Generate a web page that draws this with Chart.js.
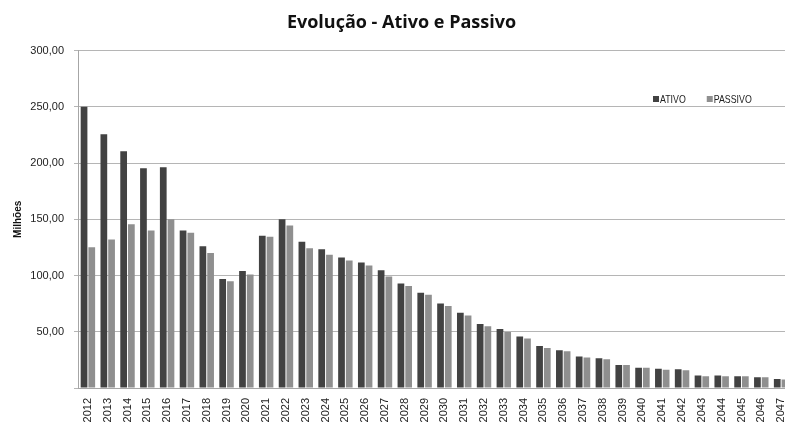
<!DOCTYPE html>
<html lang="pt-BR">
<head>
<meta charset="utf-8">
<title>Evolução - Ativo e Passivo</title>
<script src="https://cdn.jsdelivr.net/npm/chart.js@4/dist/chart.umd.min.js"></script>
<style>
    html, body { margin: 0; padding: 0; background: #fff; overflow: hidden; }
    .wrap { width: 800px; height: 425px; position: relative; }
</style>
</head>
<body>
<div class="wrap"><canvas id="grafico" width="800" height="425"></canvas></div>
<script>
// anos da projeção
const anos = ['2012', '2013', '2014', '2015', '2016', '2017', '2018', '2019', '2020', '2021',
    '2022', '2023', '2024', '2025', '2026', '2027', '2028', '2029', '2030', '2031',
    '2032', '2033', '2034', '2035', '2036', '2037', '2038', '2039', '2040', '2041',
    '2042', '2043', '2044', '2045', '2046', '2047'];

// valores em milhões
const ativo = [250.0, 225.6, 210.5, 195.4, 196.3, 140.0, 126.0, 97.0, 104.0, 135.3,
    150.0, 130.0, 123.4, 116.0, 111.6, 104.8, 93.0, 84.7, 75.2, 66.9,
    56.8, 52.4, 45.8, 37.3, 33.5, 28.1, 26.4, 20.4, 18.0, 17.1,
    16.6, 11.2, 11.2, 10.4, 9.5, 8.0];

const passivo = [125.2, 132.0, 145.6, 140.0, 150.0, 138.0, 120.0, 95.0, 101.0, 134.4,
    144.5, 124.3, 118.4, 113.4, 109.0, 99.2, 90.6, 82.9, 72.8, 64.5,
    55.0, 49.7, 44.1, 35.5, 32.6, 27.2, 25.5, 20.4, 18.0, 16.3,
    15.7, 10.4, 10.4, 10.4, 9.5, 7.5];

const escalaY = [0, 50, 100, 150, 200, 250, 300];

const corAtivo = '#424242';
const corPassivo = '#8f8f8f';
const fonte = "'Liberation Sans', Arial, sans-serif";

function formatarValor(v) {
    if (v === 0) return '';
    return v.toFixed(2).replace('.', ',');
}

// legenda desenhada dentro da área do gráfico, canto superior direito
// (texto comprimido na horizontal para ficar estreito)
const legendaInterna = {
    id: 'legendaInterna',
    afterDraw(chart) {
        const ctx = chart.ctx;
        const aperto = 0.8;
        let x = 653;
        const y = 99;
        ctx.save();
        ctx.font = '11px ' + fonte;
        ctx.textBaseline = 'middle';
        chart.data.datasets.forEach(ds => {
            ctx.fillStyle = ds.backgroundColor;
            ctx.fillRect(x, y - 3, 6, 6);
            ctx.fillStyle = '#222';
            ctx.save();
            ctx.translate(x + 7, y + 1);
            ctx.scale(aperto, 1);
            ctx.fillText(ds.label, 0, 0);
            ctx.restore();
            x += 7 + ctx.measureText(ds.label).width * aperto + 21;
        });
        ctx.restore();
    }
};

const ctx = document.getElementById('grafico').getContext('2d');

new Chart(ctx, {
    type: 'bar',
    data: {
        labels: anos,
        datasets: [{
            label: 'ATIVO',
            data: ativo,
            backgroundColor: corAtivo,
            borderWidth: 0,
            categoryPercentage: 0.78,
            barPercentage: 0.87
        }, {
            label: 'PASSIVO',
            data: passivo,
            backgroundColor: corPassivo,
            borderWidth: 0,
            categoryPercentage: 0.78,
            barPercentage: 0.87
        }]
    },
    options: {
        responsive: false,
        animation: false,
        layout: {
            padding: { left: 12, right: 9, top: 0, bottom: 0 }
        },
        plugins: {
            legend: { display: false },
            tooltip: { enabled: false },
            title: {
                display: true,
                text: 'Evolução - Ativo e Passivo',
                color: '#111',
                font: { family: "'Open Sans', sans-serif", size: 18, weight: 'bold' },
                padding: { top: 12, bottom: 17 }
            }
        },
        scales: {
            x: {
                grid: { display: false },
                border: { display: true, color: '#a6a6a6', width: 1 },
                ticks: {
                    autoSkip: false,
                    minRotation: 90,
                    maxRotation: 90,
                    color: '#222',
                    padding: 2,
                    font: { family: fonte, size: 11 }
                },
                afterFit(scale) { scale.height = 37; }
            },
            y: {
                min: 0,
                max: 300,
                afterBuildTicks(scale) {
                    scale.ticks = escalaY.map(v => ({ value: v }));
                },
                grid: {
                    color: '#b5b5b5',
                    lineWidth: 1,
                    drawTicks: true,
                    tickLength: 4
                },
                border: { display: true, color: '#a6a6a6', width: 1 },
                ticks: {
                    color: '#222',
                    padding: 10,
                    font: { family: fonte, size: 11 },
                    callback: v => formatarValor(v)
                },
                title: {
                    display: true,
                    text: 'Milhões',
                    color: '#111',
                    font: { family: fonte, size: 10, weight: 'bold' },
                    padding: 0
                },
                afterFit(scale) { scale.width = 66; }
            }
        }
    },
    plugins: [legendaInterna]
});
</script>
</body>
</html>
